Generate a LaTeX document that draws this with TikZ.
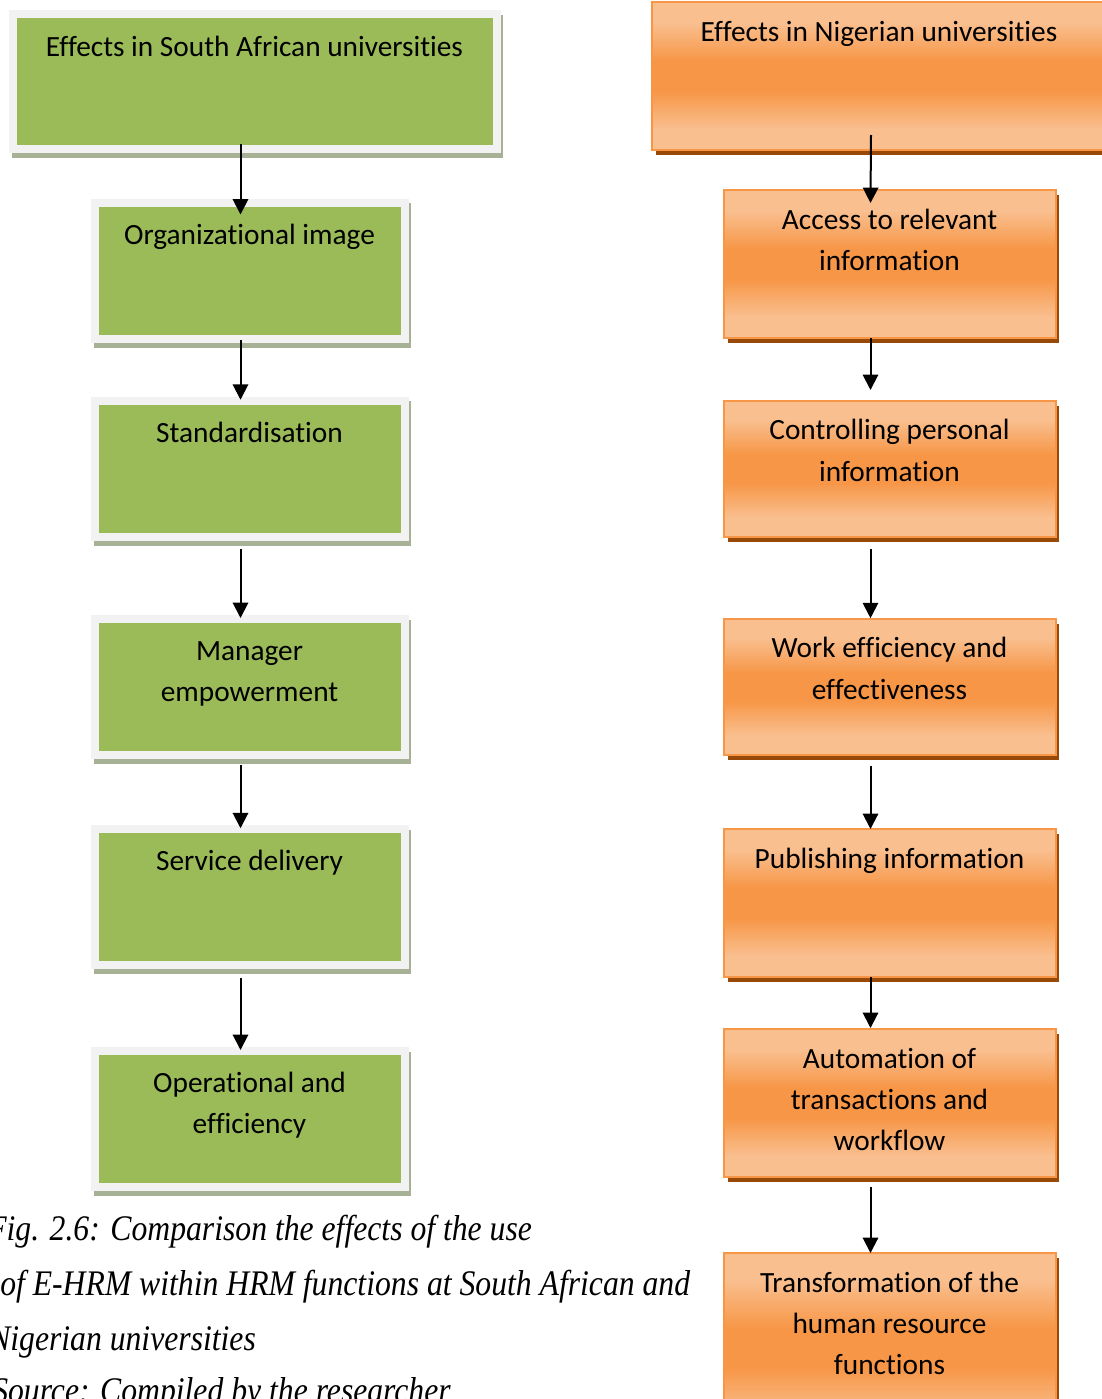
\documentclass[tikz,border=0pt]{standalone}
\usepackage{fontspec}
\setmainfont{Carlito}[Ligatures=CommonOff]
\newfontfamily\capfont[FakeStretch=0.88]{Liberation Serif}
\usetikzlibrary{arrows.meta,calc,backgrounds}

\definecolor{gfill}{HTML}{9BBB59}
\definecolor{gframe}{HTML}{F2F2F2}
\definecolor{gshadow}{HTML}{A7B196}
\definecolor{olight}{HTML}{F9BF8F}
\definecolor{odark}{HTML}{F79646}
\definecolor{oedge}{HTML}{F79646}
\definecolor{oshadow}{HTML}{984807}

% light - orange - light band used to fill the orange boxes
\pgfdeclareverticalshading{oband}{100bp}{color(0bp)=(olight); color(32bp)=(olight); color(45bp)=(odark); color(55bp)=(odark); color(68bp)=(olight); color(100bp)=(olight)}

\newcommand\boxlines[1]{\begin{tabular}[t]{@{}c@{}}#1\end{tabular}}

\tikzset{
  gbox/.style={rectangle, fill=gfill, draw=gframe, line width=6pt,
    outer sep=0pt, inner sep=0pt, minimum width=232.5pt, minimum height=102pt},
  obox/.style={rectangle, shade, shading=oband, draw=oedge, line width=1.5pt,
    outer sep=0pt, inner sep=0pt, minimum width=249pt, minimum height=111pt},
  lbl/.style={font=\fontsize{22}{31}\selectfont, anchor=base, inner sep=0pt},
  arr/.style={line width=1.5pt, -{Triangle[length=11.5pt,width=11.5pt]}},
  capt/.style={font=\capfont\itshape\fontsize{27}{30}\selectfont,
    anchor=base west, inner sep=0pt}
}

\begin{document}
\begin{tikzpicture}[x=0.75pt,y=-0.75pt]
\useasboundingbox (0,0) rectangle (1102,1399);

% South African column
\node[gbox, minimum width=363pt, minimum height=101.6pt] (g1) at (254.5,81.75) {};
\node[gbox] (g2) at (249.5,270.5) {};
\node[gbox] (g3) at (249.5,468.75) {};
\node[gbox] (g4) at (249.5,687) {};
\node[gbox] (g5) at (249.5,897.25) {};
\node[gbox] (g6) at (249.5,1119) {};

\node[lbl] (g1t) at ($(g1.north)+(0,42)$) {Effects in South African universities};
\node[lbl] (g2t) at ($(g2.north)+(0,41.5)$) {Organizational image};
\node[lbl] (g3t) at ($(g3.north)+(0,41.5)$) {Standardisation};
\node[lbl] (g4t) at ($(g4.north)+(0,41.5)$) {\boxlines{Manager\\empowerment}};
\node[lbl] (g5t) at ($(g5.north)+(0,41.5)$) {Service delivery};
\node[lbl] (g6t) at ($(g6.north)+(0,41.5)$) {\boxlines{Operational and\\efficiency}};

% Nigerian column
\node[obox, minimum width=340.5pt] (o1) at (879,76) {};
\node[obox] (o2) at (889.5,264) {};
\node[obox, minimum height=102pt] (o3) at (889.5,468.7) {};
\node[obox, minimum height=102pt] (o4) at (889.5,686.9) {};
\node[obox] (o5) at (889.5,903) {};
\node[obox] (o6) at (889.5,1103) {};
\node[obox, minimum height=142.5pt] (o7) at (889.5,1348) {};

\node[lbl] (o1t) at ($(o1.north)+(0,39)$) {Effects in Nigerian universities};
\node[lbl] (o2t) at ($(o2.north)+(0,39)$) {\boxlines{Access to relevant\\information}};
\node[lbl] (o3t) at ($(o3.north)+(0,39)$) {\boxlines{Controlling personal\\information}};
\node[lbl] (o4t) at ($(o4.north)+(0,39)$) {\boxlines{Work efficiency and\\effectiveness}};
\node[lbl] (o5t) at ($(o5.north)+(0,39)$) {Publishing information};
\node[lbl] (o6t) at ($(o6.north)+(0,39)$) {\boxlines{Automation of\\transactions and\\workflow}};
\node[lbl] (o7t) at ($(o7.north)+(0,39)$) {\boxlines{Transformation of the\\human resource\\functions}};

% shadows and page background
\begin{scope}[on background layer]
  \fill[white] (0,0) rectangle (1102,1399);
  \foreach \bx in {g1,g2,g3,g4,g5,g6}
    \filldraw[fill=gshadow, draw=white, line width=0.75pt]
      ($(\bx.north west)+(-1.5,0)$) rectangle ($(\bx.south east)+(6.5,9.5)$);
  \foreach \bx in {o1,o2,o3,o4,o5,o6,o7}
    \fill[oshadow] ($(\bx.north west)+(4,5)$) rectangle ($(\bx.south east)+(3.5,5)$);
\end{scope}

% connectors, left column
\draw[arr] ($(g1.south)+(-14,-5.5)$) -- ($(g2.north)+(-9,12)$);
\draw[arr] ($(g2.south)+(-9,1)$) -- ($(g3.north)+(-9,-1)$);
\draw[arr] ($(g3.south)+(-9,12.5)$) -- ($(g4.north)+(-9,-1)$);
\draw[arr] ($(g4.south)+(-9,10)$) -- ($(g5.north)+(-9,-1)$);
\draw[arr] ($(g5.south)+(-9,12.5)$) -- ($(g6.north)+(-9,-1)$);

% connectors, right column
\draw[arr] ($(o1.south)+(-8,-15)$) -- ($(o2.north)+(-19,13)$);
\draw[arr] ($(o2.south)+(-19,0)$) -- ($(o3.north)+(-19,-10.7)$);
\draw[arr] ($(o3.south)+(-19,12.3)$) -- ($(o4.north)+(-19,-0.7)$);
\draw[arr] ($(o4.south)+(-19,11)$) -- ($(o5.north)+(-19,0)$);
\draw[arr] ($(o5.south)+(-19,0)$) -- ($(o6.north)+(-19,-1)$);
\draw[arr] ($(o6.south)+(-19,10)$) -- ($(o7.north)+(-19,0)$);

% caption
\node[capt] (cap1) at (-13,1240) {Fig. 2.6: Comparison the effects of the use};
\node[capt] (cap2) at (0,1295) {of E-HRM within HRM functions at South African and};
\node[capt] (cap3) at (-11,1350) {Nigerian universities};
\node[capt] (cap4) at (-8,1402) {Source: Compiled by the researcher};
\end{tikzpicture}
\end{document}
